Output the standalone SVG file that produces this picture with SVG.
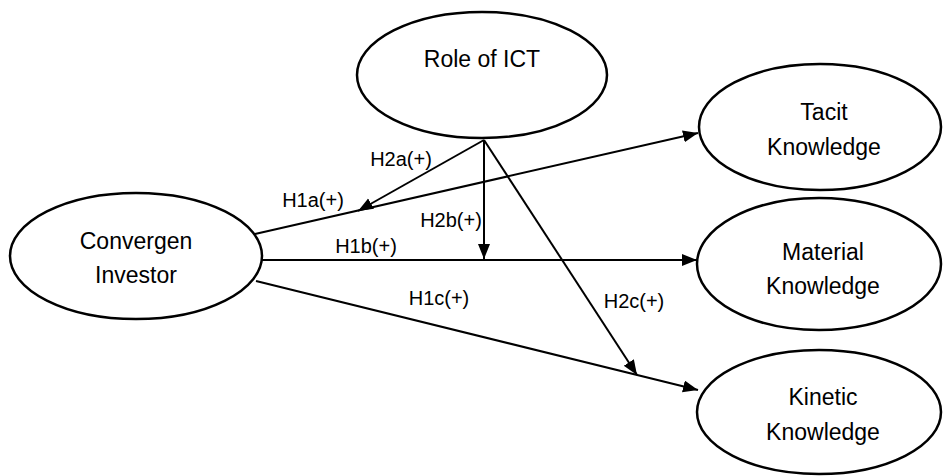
<svg xmlns="http://www.w3.org/2000/svg" width="944" height="476" viewBox="0 0 944 476">
<style>
.node{fill:#fff;stroke:#000;stroke-width:2.5}
.nt{font-family:"Liberation Sans",Arial,sans-serif;font-size:23px;fill:#000;text-anchor:middle}
.lb{font-family:"Liberation Sans",Arial,sans-serif;font-size:20px;fill:#000;text-anchor:middle}
.edge{fill:none;stroke:#000;stroke-width:2;marker-end:url(#arr)}
</style>
<defs>
<marker id="arr" markerUnits="userSpaceOnUse" markerWidth="16" markerHeight="14" refX="15" refY="6" orient="auto">
<path d="M0,0 L15,6 L0,12 z" fill="#000"/>
</marker>
</defs>
<rect width="944" height="476" fill="#fff"/>
<g id="connectors">
<line class="edge" x1="255" y1="234" x2="698" y2="133"/>
<line class="edge" x1="262" y1="260" x2="697" y2="260"/>
<line class="edge" x1="256" y1="281" x2="698" y2="390"/>
<line class="edge" x1="484" y1="140" x2="358" y2="211"/>
<line class="edge" x1="484" y1="140" x2="484" y2="259"/>
<line class="edge" x1="484" y1="140" x2="637" y2="375"/>
</g>
<g id="labels">
<text class="lb" x="401" y="166">H2a(+)</text>
<text class="lb" x="313" y="207">H1a(+)</text>
<text class="lb" x="451" y="227">H2b(+)</text>
<text class="lb" x="366" y="253">H1b(+)</text>
<text class="lb" x="439" y="305">H1c(+)</text>
<text class="lb" x="634" y="308">H2c(+)</text>
</g>
<g id="role-of-ict">
<ellipse class="node" cx="482" cy="75" rx="125" ry="63"/>
<text class="nt" x="482" y="67">Role of ICT</text>
</g>
<g id="convergen-investor">
<ellipse class="node" cx="136" cy="256" rx="126" ry="63"/>
<text class="nt" x="136" y="249">Convergen</text>
<text class="nt" x="136" y="283">Investor</text>
</g>
<g id="tacit-knowledge">
<ellipse class="node" cx="820" cy="127" rx="121" ry="63"/>
<text class="nt" x="824" y="120">Tacit</text>
<text class="nt" x="824" y="155">Knowledge</text>
</g>
<g id="material-knowledge">
<ellipse class="node" cx="819" cy="264" rx="122" ry="66"/>
<text class="nt" x="823" y="260">Material</text>
<text class="nt" x="823" y="294">Knowledge</text>
</g>
<g id="kinetic-knowledge">
<ellipse class="node" cx="819" cy="412" rx="122" ry="62"/>
<text class="nt" x="823" y="405">Kinetic</text>
<text class="nt" x="823" y="440">Knowledge</text>
</g>
</svg>
